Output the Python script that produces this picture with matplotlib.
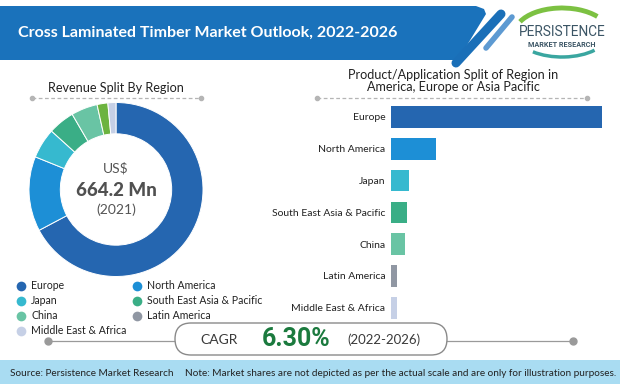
import numpy as np
import matplotlib
matplotlib.use("Agg")
import matplotlib.pyplot as plt
from matplotlib.patches import Polygon, FancyBboxPatch, Arc, Rectangle

plt.rcParams['font.family'] = ['Lato', 'DejaVu Sans']

# data
regions = ['Europe', 'North America', 'Japan', 'South East Asia & Pacific',
           'China', 'Latin America', 'Middle East & Africa']
shares = [67.3, 13.9, 5.6, 4.9, 4.9, 2.0, 1.5]          # donut, % of revenue
bar_len = [67.3, 14.3, 5.7, 5.1, 4.5, 2.0, 1.8]         # bar chart (illustrative)
colors = ['#2566b0', '#1d8fd6', '#36b9cf', '#3aae86', '#69c4a4', '#9097a3', '#c6d0e6']
donut_colors = ['#2566b0', '#1d8fd6', '#36b9cf', '#3aae86', '#69c4a4', '#6cb33f', '#c6d0e6']
total_value = '664.2 Mn'
base_year = '2021'
cagr = '6.30%'
period = '2022-2026'

W, H = 620, 384
fig = plt.figure(figsize=(W / 100, H / 100), dpi=100)
fig.patch.set_facecolor('white')

# background axes in pixel units
bg = fig.add_axes([0, 0, 1, 1])
bg.set_xlim(0, W)
bg.set_ylim(H, 0)
bg.axis('off')

def px_axes(x0, y0, w, h):
    return fig.add_axes([x0 / W, 1 - (y0 + h) / H, w / W, h / H])

# header banner
banner = Polygon([(0, 6), (476, 6), (484, 9), (486, 14), (458, 60), (0, 60)],
                 closed=True, fc='#1a72bb', ec='none')
bg.add_patch(banner)
bg.plot([456, 501], [63, 14], color='#1a6fb8', lw=6.5, solid_capstyle='round')
bg.plot([486, 512], [48, 17], color='#5d9ad2', lw=4, solid_capstyle='round')
bg.text(18, 33, 'Cross Laminated Timber Market Outlook, 2022-2026', color='white',
        fontsize=11.5, fontweight='bold', va='center', ha='left')

# logo
bg.add_patch(Arc((562, 33), 94, 50, theta1=195, theta2=335, color='#7cc142', lw=3.5))
bg.add_patch(Arc((562, 35), 90, 44, theta1=25, theta2=150, color='#3aa6a0', lw=2.5))
bg.text(562, 32, 'PERSISTENCE', color='#3b5565', fontsize=9.8, ha='center', va='center',
        family=['Roboto', 'DejaVu Sans'])
bg.text(562, 45, 'MARKET RESEARCH', color='#3b5565', fontsize=5.2, ha='center', va='center',
        fontweight='bold', family=['Roboto', 'DejaVu Sans'])

# section titles with dashed rules
bg.text(116, 88, 'Revenue Split By Region', fontsize=9.1, color='#222222',
        ha='center', va='center')
bg.plot([32, 201], [98, 98], color='#b5b5b5', lw=0.9, ls=(0, (3, 2)))
bg.plot([32, 201], [98, 98], 'o', color='#b5b5b5', ms=3)
bg.text(453, 81, 'Product/Application Split of Region in\nAmerica, Europe or Asia Pacific',
        fontsize=9.1, color='#222222', ha='center', va='center', linespacing=1.0)
bg.plot([317, 587], [98, 98], color='#b5b5b5', lw=0.9, ls=(0, (3, 2)))
bg.plot([317, 587], [98, 98], 'o', color='#b5b5b5', ms=3)

# donut
cx, cy, r = 116, 189.5, 87
ax_d = px_axes(cx - 90, cy - 90, 180, 180)
ax_d.pie(shares, colors=donut_colors, startangle=90, counterclock=False,
         radius=1, wedgeprops=dict(width=0.36, edgecolor='white', linewidth=0.7))
ax_d.set_xlim(-90 / r, 90 / r)
ax_d.set_ylim(-90 / r, 90 / r)
ax_d.set_aspect('equal')
ax_d.axis('off')
bg.text(cx, 168, 'US$', fontsize=10, color='#555555', ha='center', va='center')
bg.text(cx, 190, total_value, fontsize=13.5, color='#505050', ha='center', va='center',
        fontweight='black')
bg.text(cx, 210, '(' + base_year + ')', fontsize=10, color='#555555', ha='center', va='center')

# legend
for i, (name, c) in enumerate(zip(regions, colors)):
    row, col = i // 2, i % 2
    x = 21 if col == 0 else 137
    y = 285.7 + row * 15
    bg.plot(x, y, 'o', color=c, ms=7, mec='none')
    bg.text(x + 10, y, name, fontsize=7.6, color='#222222', ha='left', va='center')

# horizontal bars
step = 31.8
ax_b = px_axes(391, 117 - step / 2, 211, step * 7)
ypos = np.arange(len(regions))
ax_b.barh(ypos, bar_len, height=0.68, color=colors)
ax_b.set_xlim(0, max(bar_len))
ax_b.set_ylim(len(regions) - 0.5, -0.5)
ax_b.set_yticks(ypos)
ax_b.set_yticklabels(regions, fontsize=7.5, color='#222222')
ax_b.tick_params(axis='y', length=0, pad=4)
ax_b.set_xticks([])
for s in ax_b.spines.values():
    s.set_visible(False)
ax_b.patch.set_alpha(0)

# CAGR strip
bg.plot([48, 573], [341, 341], color='#9a9a9a', lw=0.9, zorder=1)
bg.plot([48, 573], [341, 341], 'o', color='#9a9a9a', ms=5, zorder=1)
pill = FancyBboxPatch((175, 323), 272, 32, boxstyle='round,pad=0,rounding_size=16',
                      fc='white', ec='#8a8a8a', lw=1.0, zorder=2)
bg.add_patch(pill)
bg.text(219, 340, 'CAGR', fontsize=10, color='#3a3a3a', ha='center', va='center',
        zorder=3)
bg.text(296, 339, cagr, fontsize=18, color='#1b7a3e', ha='center', va='center',
        fontweight='bold', family=['Roboto', 'DejaVu Sans'], zorder=3)
bg.text(384, 340, '(' + period + ')', fontsize=9.5, color='#3a3a3a', ha='center', va='center',
        zorder=3)

# footer
bg.add_patch(Rectangle((0, 360), W, 24, fc='#a9dcf2', ec='none'))
bg.text(10, 373, 'Source: Persistence Market Research', fontsize=7.2, color='#222222',
        ha='left', va='center')
bg.text(616, 373, 'Note: Market shares are not depicted as per the actual scale and are only for illustration purposes.',
        fontsize=7.2, color='#222222', ha='right', va='center')

fig.savefig('out.png', dpi=100, facecolor='white')
